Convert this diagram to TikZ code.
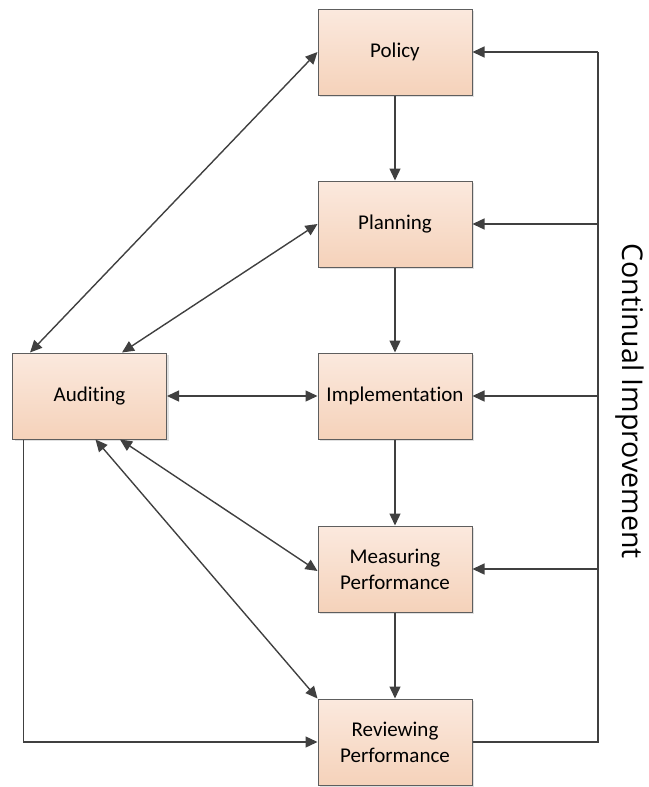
\documentclass[tikz,border=0pt]{standalone}
\usepackage{fontspec}
\setmainfont{Carlito}[Ligatures=NoCommon]
\newfontfamily\cifont{Open Sans}
\usetikzlibrary{arrows.meta,shadows}
\definecolor{boxtop}{HTML}{FBE9DE}
\definecolor{boxbot}{HTML}{F5D2BA}
\definecolor{boxline}{HTML}{5E5E5E}
\definecolor{linec}{HTML}{404040}
\begin{document}
\begin{tikzpicture}[x=1pt,y=-1pt,
 box/.style={draw=boxline, line width=1pt, top color=boxtop, bottom color=boxbot,
   minimum width=154pt, minimum height=86pt, inner sep=0pt, align=center,
   font=\fontsize{21}{26}\selectfont,
   drop shadow={shadow xshift=2pt, shadow yshift=-2pt, fill=black!12, opacity=1}},
 conn/.style={line width=1.4pt, draw=linec},
 arr/.style={conn, -{Triangle[length=12pt,width=11pt]}},
 darr/.style={conn, {Triangle[length=12pt,width=11pt]}-{Triangle[length=12pt,width=11pt]}}]
\useasboundingbox (0,0) rectangle (648,787);
\node[box] (policy) at (395,52) {Policy};
\node[box] (planning) at (395,224) {Planning};
\node[box] (impl) at (395,396) {Implementation};
\node[box] (meas) at (395,569) {Measuring\\Performance};
\node[box] (rev) at (395,742) {Reviewing\\Performance};
\node[box] (aud) at (89.5,396) {Auditing};
\node[rotate=-90, font=\cifont\fontsize{28.5}{32}\selectfont] (ci) at (630,401) {Continual Improvement};
\coordinate (rt) at (598,52);
\coordinate (rb) at (598,742);
% vertical chain
\draw[arr] (policy) -- (planning);
\draw[arr] (planning) -- (impl);
\draw[arr] (impl) -- (meas);
\draw[arr] (meas) -- (rev);
% continual improvement loop
\draw[conn] (rev.east) -- (rb) -- (rt);
\draw[arr] (rt) -- (policy.east);
\draw[arr] (planning.east -| rt) -- (planning.east);
\draw[arr] (impl.east -| rt) -- (impl.east);
\draw[arr] (meas.east -| rt) -- (meas.east);
% auditing
\draw[darr] ([xshift=-59.5pt]aud.north) -- (policy.west);
\draw[darr] ([xshift=32.5pt]aud.north) -- (planning.west);
\draw[darr] (aud.east) -- (impl.west);
\draw[darr] ([xshift=30.5pt]aud.south) -- ([yshift=-2pt]meas.west);
\draw[darr] ([xshift=6pt]aud.south) -- (rev.north west);
\draw[arr] ([xshift=-66pt]aud.south) |- (rev.west);
\end{tikzpicture}
\end{document}
